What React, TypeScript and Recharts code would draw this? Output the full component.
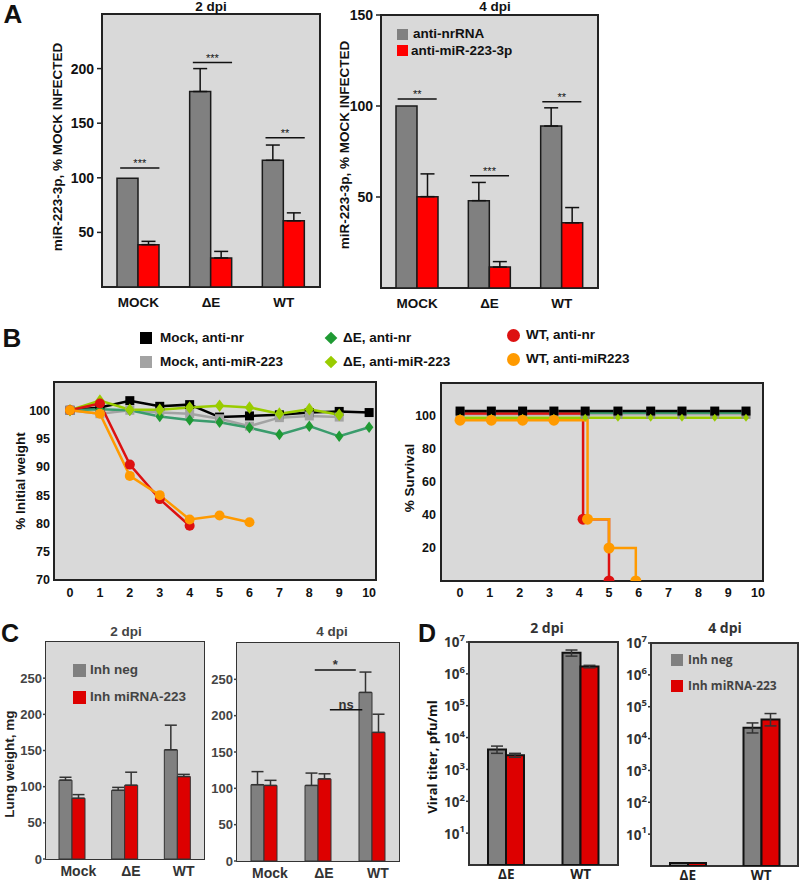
import React from 'react';
import { BarChart, Bar, XAxis, YAxis, ErrorBar, ReferenceLine, LineChart, Line } from 'recharts';

const F = "'Liberation Sans', Arial, Helvetica, sans-serif";
const OS = "'Open Sans', 'Liberation Sans', Arial, sans-serif";

// ---------------- Panel A (miR-223-3p, % mock infected) ----------------
const aCats = ['MOCK', 'ΔE', 'WT'];
const a2Nr = [99.5, 179, 116];
const a2NrErr = [null, 21, 14];
const a2Mi = [38.8, 26.6, 60.6];
const a2MiErr = [3, 6, 7.3];
const a2SigY = [109, 205.5, 136.7];
const a2SigTxt = ['***', '***', '**'];
const a4Nr = [100, 48, 89];
const a4NrErr = [null, 10, 10];
const a4Mi = [50.2, 11.5, 35.8];
const a4MiErr = [12.5, 3, 8.4];
const a4SigY = [103.8, 61.7, 102.4];
const a4SigTxt = ['**', '***', '**'];
const a2Ticks = [50, 100, 150, 200];
const a4Ticks = [50, 100, 150];

// ---------------- Panel B (weight, survival) ----------------
const bDays = [0, 1, 2, 3, 4, 5, 6, 7, 8, 9, 10];
const wMockNr = [100, 100.5, 101.7, 100.7, 101, 98.8, 99, 99.2, 99.6, 99.8, 99.6];
const wMockMi = [100, 99.4, 100, 99.6, 99.4, 98.5, 97.2, 98.7, 99, 98.8, null];
const wDENr = [100, 100.2, 100, 98.9, 98.3, 97.9, 96.9, 95.7, 97.2, 95.4, 97];
const wDEMi = [100, 101.7, 100.1, 100.1, 100.5, 100.8, 100.5, 99.4, 100.2, 99.2, null];
const wWTNr = [100, 101.2, 90.4, 84.3, 79.6, null, null, null, null, null, null];
const wWTMi = [100, 99.4, 88.4, 85, 80.7, 81.4, 80.2, null, null, null, null];
const bWeightTicks = [70, 75, 80, 85, 90, 95, 100];

const sDays = [0, 1.05, 2.1, 3.15, 4.2, 5.3, 6.4, 7.45, 8.55, 9.6];
const sMockNr = [103, 103, 103, 103, 103, 103, 103, 103, 103, 103];
const sMockMi = [101, 101, 101, 101, 101, 101, 101, 101, 101, 101];
const sDENr = [102, 102, 102, 102, 102, 102, 102, 102, 102, 102];
const sDEMi = [99, 99, 99, 99, 99, 99, 99, 99, 99, 99];
const sWTNrX = [0, 4.13, 4.13, 5, 5];
const sWTNrY = [101.5, 101.5, 37.5, 37.5, 0];
const sWTNrMark = [false, false, true, false, true];
const sWTMiX = [0, 1.05, 2.1, 3.15, 4.28, 4.28, 5, 5, 5.9, 5.9];
const sWTMiY = [97.5, 97.5, 97.5, 97.5, 97.5, 37.5, 37.5, 20, 20, 0];
const sWTMiMark = [true, true, true, true, false, true, false, true, false, true];
const bSurvTicks = [20, 40, 60, 80, 100];

// ---------------- Panel C (lung weight, mg) ----------------
const cCats = ['Mock', 'ΔE', 'WT'];
const c2Neg = [109, 95, 151];
const c2NegErr = [4, 4, 34];
const c2Mi = [84, 102, 114];
const c2MiErr = [5, 18, 3];
const c4Neg = [105, 104, 232];
const c4NegErr = [18, 17, 28];
const c4Mi = [104, 113, 177];
const c4MiErr = [7, 7, 25];
const c4SigTxt = ['*', 'ns'];
const c4SigY = [263, 208];
const c4SigFrom = [1.44, 1.72];
const c4SigTo = [2.2, 2.32];
const cTicks = [0, 50, 100, 150, 200, 250];

// ---------------- Panel D (viral titer, pfu/ml) ----------------
const dCats = ['ΔE', 'WT'];
const d2Neg = [4200, 4.6e6];
const d2NegErr = [[1000, 1200], [1.0e6, 1.0e6]];
const d2Mi = [2800, 1.7e6];
const d2MiErr = [[400, 400], [1.5e5, 1.5e5]];
const d4Neg = [1.25, 2.2e4];
const d4NegErr = [null, [7e3, 9e3]];
const d4Mi = [1.25, 4.0e4];
const d4MiErr = [null, [1.5e4, 2.1e4]];
const dTicks = [10, 100, 1e3, 1e4, 1e5, 1e6, 1e7];

// ---------------- layout boxes (plot areas) ----------------
const BOX = {
  a2: { l: 102, t: 14, r: 320, b: 287 },
  a4: { l: 381, t: 15, r: 598, b: 288 },
  bw: { l: 54, t: 382, r: 376, b: 580 },
  bs: { l: 441, t: 383, r: 763, b: 581 },
  c2: { l: 46, t: 642, r: 204, b: 859 },
  c4: { l: 237, t: 643, r: 399, b: 861 },
  d2: { l: 469, t: 642, r: 618, b: 865 },
  d4: { l: 651, t: 643, r: 798, b: 866 },
};

const upErr = (e: any) => (e == null ? null : [0, e]);

const aData2 = aCats.map((c, i) => ({ cat: c, pos: i + 0.5, v1: a2Nr[i], e1: upErr(a2NrErr[i]), v2: a2Mi[i], e2: upErr(a2MiErr[i]) }));
const aData4 = aCats.map((c, i) => ({ cat: c, pos: i + 0.5, v1: a4Nr[i], e1: upErr(a4NrErr[i]), v2: a4Mi[i], e2: upErr(a4MiErr[i]) }));
const cData2 = cCats.map((c, i) => ({ cat: c, pos: i + 0.5, v1: c2Neg[i], e1: upErr(c2NegErr[i]), v2: c2Mi[i], e2: upErr(c2MiErr[i]) }));
const cData4 = cCats.map((c, i) => ({ cat: c, pos: i + 0.5, v1: c4Neg[i], e1: upErr(c4NegErr[i]), v2: c4Mi[i], e2: upErr(c4MiErr[i]) }));
const dData2 = dCats.map((c, i) => ({ cat: c, pos: i + 0.5, v1: d2Neg[i], e1: d2NegErr[i], v2: d2Mi[i], e2: d2MiErr[i] }));
const dData4 = dCats.map((c, i) => ({ cat: c, pos: i + 0.5, v1: d4Neg[i], e1: d4NegErr[i], v2: d4Mi[i], e2: d4MiErr[i] }));

const aSig2 = a2SigY.map((y, i) => ({ y, x1: i + 0.52 - 0.27, x2: i + 0.52 + 0.27, text: a2SigTxt[i] }));
const aSig4 = a4SigY.map((y, i) => ({ y, x1: i + 0.5 - 0.27, x2: i + 0.5 + 0.27, text: a4SigTxt[i] }));
const cSig4 = c4SigY.map((y, i) => ({ y, x1: c4SigFrom[i], x2: c4SigTo[i], text: c4SigTxt[i] }));

const weightData = bDays.map((d, i) => ({
  day: d, mockNr: wMockNr[i], mockMi: wMockMi[i], dENr: wDENr[i], dEMi: wDEMi[i], wtNr: wWTNr[i], wtMi: wWTMi[i],
}));
const flat = (ys: number[]) => sDays.map((d, i) => ({ x: d, y: ys[i], m: true }));
const survMockNr = flat(sMockNr);
const survMockMi = flat(sMockMi);
const survDENr = flat(sDENr);
const survDEMi = flat(sDEMi);
const survWTNr = sWTNrX.map((x, i) => ({ x, y: sWTNrY[i], m: sWTNrMark[i] }));
const survWTMi = sWTMiX.map((x, i) => ({ x, y: sWTMiY[i], m: sWTMiMark[i] }));

// ---------------- helpers ----------------
const Txt = ({ x, y, children, size = 13, weight = 700, color = '#111', rot = 0, anchor = 'middle', family = F }: any) => (
  <div
    style={{
      position: 'absolute', left: x, top: y, whiteSpace: 'nowrap', lineHeight: 1, fontSize: size, fontWeight: weight,
      color, fontFamily: family,
      transform: `translate(${anchor === 'start' ? '0' : '-50%'}, -50%) rotate(${rot}deg)`,
      transformOrigin: anchor === 'start' ? 'left center' : 'center',
    }}
  >
    {children}
  </div>
);

const Swatch = ({ x, y, size, color, shape = 'square' }: any) => {
  const common: any = { position: 'absolute', left: x - size / 2, top: y - size / 2, width: size, height: size, background: color };
  if (shape === 'circle') common.borderRadius = '50%';
  if (shape === 'diamond') {
    common.transform = 'rotate(45deg) scale(0.75)';
  }
  return <div style={common} />;
};

const BgBox = ({ box, bw = 2, color = '#222' }: any) => (
  <div
    style={{
      position: 'absolute', left: box.l - bw / 2, top: box.t - bw / 2, width: box.r - box.l + bw, height: box.b - box.t + bw,
      boxSizing: 'border-box', border: `${bw}px solid ${color}`, background: '#d9d9d9',
    }}
  />
);

const CatTick = (props: any) => {
  const { x, y, payload, dx = 0, fs = 13, color = '#111', family = F } = props;
  return (
    <text x={x + dx} y={y} dy="0.71em" textAnchor="middle" fontSize={fs} fontWeight={700} fill={color} fontFamily={family}>
      {payload.value}
    </text>
  );
};

const LogTick = (props: any) => {
  const { x, y, payload } = props;
  const e = Math.round(Math.log10(payload.value));
  return (
    <text x={x} y={y} textAnchor="end" fill="#333" fontFamily={OS} fontWeight={700} fontSize={13.5}>
      <tspan dy="0.4em">10</tspan>
      <tspan dy="-0.65em" fontSize={9.5}>{e}</tspan>
    </text>
  );
};

function BarPanel(p: any) {
  const { box, ml, data, domain, ticks, barSize, c1, c2, stroke, sw, errColor, errW, capW, yTick, xTick,
    xTickSize, xTickMargin, yTickSize, yTickMargin, sig = [], nCats, log, sigStyle, tickStroke } = p;
  const mt = 10, mr = 10, mb = 30;
  const W = box.r - box.l + ml + mr;
  const H = box.b - box.t + mt + mb;
  return (
    <div style={{ position: 'absolute', left: box.l - ml, top: box.t - mt }}>
      <BarChart width={W} height={H} data={data} margin={{ top: mt, right: mr, left: 0, bottom: 0 }} barGap={0} barSize={barSize}>
        <XAxis dataKey="cat" xAxisId="c" interval={0} tickLine={false} axisLine={false} height={mb}
          tickSize={xTickSize} tickMargin={xTickMargin} tick={xTick} />
        <XAxis xAxisId="n" dataKey="pos" type="number" domain={[0, nCats]} hide allowDataOverflow />
        <YAxis width={ml} domain={domain} ticks={ticks} scale={log ? 'log' : 'auto'} allowDataOverflow interval={0}
          axisLine={false} tickSize={yTickSize} tickMargin={yTickMargin}
          tickLine={{ stroke: tickStroke || '#222', strokeWidth: 1.5 }} tick={yTick} />
        <Bar xAxisId="c" dataKey="v1" fill={c1} stroke={stroke} strokeWidth={sw} isAnimationActive={false}>
          <ErrorBar dataKey="e1" width={capW} stroke={errColor} strokeWidth={errW} direction="y" />
        </Bar>
        <Bar xAxisId="c" dataKey="v2" fill={c2} stroke={stroke} strokeWidth={sw} isAnimationActive={false}>
          <ErrorBar dataKey="e2" width={capW} stroke={errColor} strokeWidth={errW} direction="y" />
        </Bar>
        {sig.map((s: any, i: number) => (
          <ReferenceLine key={i} xAxisId="n" ifOverflow="visible"
            segment={[{ x: s.x1, y: s.y }, { x: s.x2, y: s.y }]} stroke="#111" strokeWidth={1.5}
            label={{ value: s.text, position: 'top', offset: sigStyle.offset, fontSize: sigStyle.fs, fontWeight: sigStyle.fw, fill: sigStyle.fill, fontFamily: F }} />
        ))}
      </BarChart>
    </div>
  );
}

const mkDot = (shape: string, fill: string, size: number, onlyMarked = false) => (props: any) => {
  const { cx, cy, index, payload } = props;
  if (cx == null || cy == null || isNaN(cx) || isNaN(cy) || (onlyMarked && !payload.m)) return <g key={`d${index}`} />;
  if (shape === 'square') return <rect key={`d${index}`} x={cx - size / 2} y={cy - size / 2} width={size} height={size} fill={fill} />;
  if (shape === 'circle') return <circle key={`d${index}`} cx={cx} cy={cy} r={size / 2} fill={fill} />;
  const h = size / 2;
  return <polygon key={`d${index}`} points={`${cx},${cy - h * 1.15} ${cx + h * 0.85},${cy} ${cx},${cy + h * 1.15} ${cx - h * 0.85},${cy}`} fill={fill} />;
};

const COL = {
  black: '#000000', gray: '#a3a3a3', dkLine: '#3a9c6c', dkMark: '#1f9a33', ltGreen: '#99cc00', red: '#dd1111', orange: '#ff9a00',
};

const tickB = { fill: '#111', fontSize: 12.5, fontWeight: 700, fontFamily: F };

function WeightChart() {
  const box = BOX.bw; const ml = 50, mt = 10, mr = 10, mb = 30;
  return (
    <div style={{ position: 'absolute', left: box.l - ml, top: box.t - mt }}>
      <LineChart width={box.r - box.l + ml + mr} height={box.b - box.t + mt + mb} data={weightData} margin={{ top: mt, right: mr, left: 0, bottom: 0 }}>
        <XAxis dataKey="day" type="number" domain={[-0.535, 10.23]} ticks={bDays} allowDataOverflow interval={0}
          tickLine={false} axisLine={false} height={mb} tickSize={4} tickMargin={4.5} tick={tickB} />
        <YAxis domain={[70, 105]} ticks={bWeightTicks} allowDataOverflow interval={0} tickLine={false} axisLine={false}
          width={ml} tickSize={2} tickMargin={2} tick={tickB} />
        <Line dataKey="mockNr" stroke={COL.black} strokeWidth={2.5} dot={mkDot('square', COL.black, 9)} activeDot={false} isAnimationActive={false} />
        <Line dataKey="mockMi" stroke={COL.gray} strokeWidth={2.5} dot={mkDot('square', COL.gray, 9)} activeDot={false} isAnimationActive={false} />
        <Line dataKey="dENr" stroke={COL.dkLine} strokeWidth={2.5} dot={mkDot('diamond', COL.dkMark, 10)} activeDot={false} isAnimationActive={false} />
        <Line dataKey="dEMi" stroke={COL.ltGreen} strokeWidth={2.5} dot={mkDot('diamond', COL.ltGreen, 11)} activeDot={false} isAnimationActive={false} />
        <Line dataKey="wtNr" stroke={COL.red} strokeWidth={2.5} dot={mkDot('circle', COL.red, 10)} activeDot={false} isAnimationActive={false} />
        <Line dataKey="wtMi" stroke={COL.orange} strokeWidth={2.5} dot={mkDot('circle', COL.orange, 10)} activeDot={false} isAnimationActive={false} />
      </LineChart>
    </div>
  );
}

function SurvivalChart() {
  const box = BOX.bs; const ml = 50, mt = 10, mr = 10, mb = 30;
  return (
    <div style={{ position: 'absolute', left: box.l - ml, top: box.t - mt }}>
      <LineChart width={box.r - box.l + ml + mr} height={box.b - box.t + mt + mb} margin={{ top: mt, right: mr, left: 0, bottom: 0 }}>
        <XAxis dataKey="x" type="number" domain={[-0.64, 10.17]} ticks={bDays} allowDataOverflow interval={0}
          tickLine={false} axisLine={false} height={mb} tickSize={4} tickMargin={3.5} tick={tickB} />
        <YAxis dataKey="y" domain={[0, 120]} ticks={bSurvTicks} allowDataOverflow interval={0} tickLine={false} axisLine={false}
          width={ml} tickSize={2} tickMargin={3} tick={tickB} />
        <Line data={survMockMi} dataKey="y" stroke={COL.gray} strokeWidth={2.5} dot={mkDot('square', '#8f8f8f', 9)} activeDot={false} isAnimationActive={false} />
        <Line data={survDENr} dataKey="y" stroke={COL.dkLine} strokeWidth={2.5} dot={false} activeDot={false} isAnimationActive={false} />
        <Line data={survWTNr} dataKey="y" stroke={COL.red} strokeWidth={2.5} dot={mkDot('circle', COL.red, 11, true)} activeDot={false} isAnimationActive={false} />
        <Line data={survMockNr} dataKey="y" stroke={COL.black} strokeWidth={2.5} dot={mkDot('square', COL.black, 9)} activeDot={false} isAnimationActive={false} />
        <Line data={survDEMi} dataKey="y" stroke={COL.ltGreen} strokeWidth={2.5} dot={mkDot('diamond', COL.ltGreen, 7)} activeDot={false} isAnimationActive={false} />
        <Line data={survWTMi} dataKey="y" stroke={COL.orange} strokeWidth={2.5} dot={mkDot('circle', COL.orange, 11, true)} activeDot={false} isAnimationActive={false} />
      </LineChart>
    </div>
  );
}

const aTick = { fill: '#111', fontSize: 14, fontWeight: 700, fontFamily: F };
const cTick = { fill: '#444', fontSize: 13, fontWeight: 700, fontFamily: F };

export default function App() {
  const aCommon = {
    ml: 60, barSize: 21, c1: '#808080', c2: '#ff0000', stroke: '#1a1a1a', sw: 1.5, errColor: '#111', errW: 1.5, capW: 7,
    yTick: aTick, xTick: (pr: any) => <CatTick {...pr} fs={13.5} color="#111" />, xTickSize: 5, xTickMargin: 5, yTickSize: 5, yTickMargin: 3,
    nCats: 3, sigStyle: { offset: 1, fs: 11, fw: 400, fill: '#111' },
  };
  const cCommon = {
    ml: 45, barSize: 13, c1: '#808080', c2: '#dd0000', stroke: '#333', sw: 1, errColor: '#333', errW: 1.5, capW: 6,
    domain: [0, 300], ticks: cTicks, yTick: cTick, xTickSize: 4, xTickMargin: 3, yTickSize: 3, yTickMargin: 1,
    nCats: 3, tickStroke: '#444', sigStyle: { offset: 1, fs: 13, fw: 700, fill: '#333' },
  };
  const dCommon = {
    ml: 60, barSize: 18, c1: '#808080', c2: '#dd0000', stroke: '#111', sw: 2, errColor: '#333', errW: 1.5, capW: 6,
    domain: [1, 1e7], ticks: dTicks, log: true, yTick: (pr: any) => <LogTick {...pr} />,
    xTick: (pr: any) => <CatTick {...pr} fs={13.5} color="#222" family={OS} />, xTickSize: 3, xTickMargin: 1, yTickSize: 3, yTickMargin: 1,
    nCats: 2, tickStroke: '#333', sigStyle: { offset: 1, fs: 12, fw: 400, fill: '#111' },
  };
  return (
    <div style={{ position: 'absolute', left: 0, top: 0, width: 800, height: 883, background: '#fff', overflow: 'hidden', fontFamily: F }}>
      {Object.values(BOX).map((b, i) => (
        <BgBox key={i} box={b} bw={i >= 4 && i < 6 ? 1.5 : 2} color={i >= 4 ? '#333' : '#222'} />
      ))}

      {/* Panel A */}
      <Txt x={13} y={14} size={26}>A</Txt>
      <Txt x={211} y={7} size={13.5}>2 dpi</Txt>
      <Txt x={495} y={7} size={13.5}>4 dpi</Txt>
      <Txt x={58} y={147} size={13.5} rot={-90}>miR-223-3p, % MOCK INFECTED</Txt>
      <Txt x={345} y={145} size={13.5} rot={-90}>miR-223-3p, % MOCK INFECTED</Txt>
      <Swatch x={402} y={34} size={11} color="#808080" />
      <Swatch x={402} y={50} size={11} color="#ff0000" />
      <Txt x={413} y={34} size={13.5} anchor="start">anti-nrRNA</Txt>
      <Txt x={411} y={51} size={13.5} anchor="start">anti-miR-223-3p</Txt>
      <BarPanel {...aCommon} box={BOX.a2} data={aData2} domain={[0, 250]} ticks={a2Ticks} sig={aSig2} />
      <BarPanel {...aCommon} box={BOX.a4} data={aData4} domain={[0, 150]} ticks={a4Ticks} sig={aSig4} />

      {/* Panel B */}
      <Txt x={12} y={338} size={26}>B</Txt>
      <Swatch x={146} y={338} size={12} color={COL.black} />
      <Swatch x={146} y={362} size={12} color={COL.gray} />
      <Txt x={160} y={338} size={13.5} anchor="start">Mock, anti-nr</Txt>
      <Txt x={160} y={362} size={13.5} anchor="start">Mock, anti-miR-223</Txt>
      <Swatch x={331} y={338} size={12} color={COL.dkMark} shape="diamond" />
      <Swatch x={331} y={362} size={12} color={COL.ltGreen} shape="diamond" />
      <Txt x={343} y={338} size={13.5} anchor="start">ΔE, anti-nr</Txt>
      <Txt x={343} y={362} size={13.5} anchor="start">ΔE, anti-miR-223</Txt>
      <Swatch x={513} y={335} size={13} color={COL.red} shape="circle" />
      <Swatch x={513} y={359} size={13} color={COL.orange} shape="circle" />
      <Txt x={526} y={335} size={13.5} anchor="start">WT, anti-nr</Txt>
      <Txt x={526} y={359} size={13.5} anchor="start">WT, anti-miR223</Txt>
      <Txt x={21} y={481} size={13.5} rot={-90}>% Initial weight</Txt>
      <Txt x={410} y={478} size={13.5} rot={-90}>% Survival</Txt>
      <WeightChart />
      <SurvivalChart />

      {/* Panel C */}
      <Txt x={10} y={633} size={25}>C</Txt>
      <Txt x={126} y={632} size={13.5} color="#444">2 dpi</Txt>
      <Txt x={332} y={632} size={13.5} color="#444">4 dpi</Txt>
      <Txt x={10} y={764} size={13.5} rot={-90} color="#222">Lung weight, mg</Txt>
      <Swatch x={79.5} y={670} size={13} color="#808080" />
      <Swatch x={79.5} y={697} size={13} color="#dd0000" />
      <Txt x={90} y={670} size={13.5} anchor="start" color="#444">Inh neg</Txt>
      <Txt x={90} y={697} size={13.5} anchor="start" color="#444">Inh miRNA-223</Txt>
      <BarPanel {...cCommon} box={BOX.c2} data={cData2} xTick={(pr: any) => <CatTick {...pr} fs={14} color="#333" dx={6} />} />
      <BarPanel {...cCommon} box={BOX.c4} data={cData4} sig={cSig4} xTick={(pr: any) => <CatTick {...pr} fs={14} color="#333" dx={6} />} />

      {/* Panel D */}
      <Txt x={427} y={633} size={25}>D</Txt>
      <Txt x={547} y={628} size={14} color="#333" family={OS}>2 dpi</Txt>
      <Txt x={725} y={628} size={14} color="#333" family={OS}>4 dpi</Txt>
      <Txt x={432} y={757} size={13} rot={-90} family={OS}>Viral titer, pfu/ml</Txt>
      <Swatch x={677} y={660} size={12} color="#808080" />
      <Swatch x={677} y={686} size={12} color="#dd0000" />
      <Txt x={688} y={660} size={12} anchor="start" color="#444" family={OS}>Inh neg</Txt>
      <Txt x={688} y={686} size={12} anchor="start" color="#444" family={OS}>Inh miRNA-223</Txt>
      <BarPanel {...dCommon} box={BOX.d2} data={dData2} />
      <BarPanel {...dCommon} box={BOX.d4} data={dData4} />
    </div>
  );
}
